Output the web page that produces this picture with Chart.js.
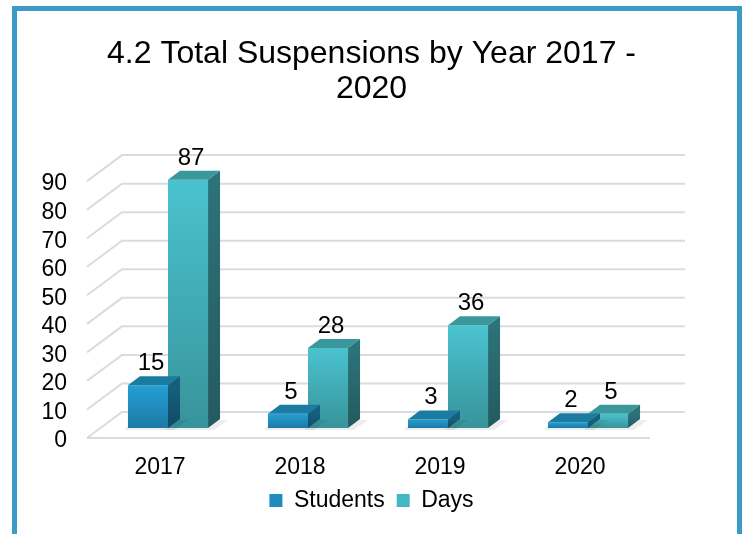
<!DOCTYPE html>
<html>
<head>
<meta charset="utf-8">
<script src="https://cdn.jsdelivr.net/npm/chart.js@4.4.1/dist/chart.umd.min.js"></script>
<style>
  html, body { margin: 0; padding: 0; background: #fff; }
  #wrap { position: relative; width: 743px; height: 534px; overflow: hidden; }
  #frame {
    position: absolute; left: 12px; top: 6px; width: 720px; height: 560px;
    border: 5px solid #3b9bc4; border-bottom: none; pointer-events: none;
  }
  canvas { position: absolute; left: 0; top: 0; }
</style>
</head>
<body>
<div id="wrap">
  <canvas id="suspensions-chart" width="743" height="534"></canvas>
  <div id="frame"></div>
</div>
<script>
// chart data
const years = ['2017', '2018', '2019', '2020'];
const students = [15, 5, 3, 2];
const days = [87, 28, 36, 5];
const yTicks = [0, 10, 20, 30, 40, 50, 60, 70, 80, 90];

const FONT = '"Liberation Sans", Arial, sans-serif';
const DEPTH_X = 12, DEPTH_Y = 9; // depth of the 3D bar faces

// colours per series: front top, front bottom, top face, side top, side bottom, legend
const palette = [
    { top: '#259fd4', bottom: '#1b7aa6', cap: '#1b7ca2', sideTop: '#16607e', sideBottom: '#114b63', key: '#1f8cc0' },
    { top: '#4ac3cf', bottom: '#38939a', cap: '#3a979c', sideTop: '#2d737a', sideBottom: '#235a5f', key: '#43b7c3' }
];

// vertical gradient for each bar, from its base up to its value
function frontGradient(idx) {
    return function (context) {
        const chart = context.chart;
        const y = chart.scales.y;
        if (!chart.chartArea || !y || context.raw === undefined) return palette[idx].top;
        const top = y.getPixelForValue(context.raw);
        const base = y.getPixelForValue(0);
        const g = chart.ctx.createLinearGradient(0, base, 0, Math.min(top, base - 1));
        g.addColorStop(0, palette[idx].bottom);
        g.addColorStop(1, palette[idx].top);
        return g;
    };
}

// perspective grid: back wall lines, left wall diagonals and front floor edge
const gridPlugin = {
    id: 'grid3d',
    beforeDatasetsDraw(chart) {
        const { ctx, chartArea, scales } = chart;
        const y = scales.y;
        ctx.save();
        ctx.strokeStyle = 'rgba(205, 205, 218, 0.75)';
        ctx.lineWidth = 2;
        yTicks.forEach(function (v) {
            const py = y.getPixelForValue(v);
            ctx.beginPath();
            ctx.moveTo(chartArea.left - 11, py + 10);
            ctx.lineTo(chartArea.left + 24, py - 16);
            ctx.lineTo(chartArea.right + 27, py - 16);
            ctx.stroke();
        });
        const p0 = y.getPixelForValue(0);
        ctx.beginPath();
        ctx.moveTo(chartArea.left - 11, p0 + 10);
        ctx.lineTo(chartArea.right - 8, p0 + 10);
        ctx.stroke();
        ctx.restore();
    }
};

// top and side faces for every bar, plus the value above it
const barPlugin = {
    id: 'bars3d',
    beforeDatasetDraw(chart, args) {
        // soft shadow on the floor
        const ctx = chart.ctx;
        const meta = args.meta;
        ctx.save();
        ctx.fillStyle = 'rgba(0, 0, 0, 0.07)';
        meta.data.forEach(function (bar) {
            const r = bar.x + bar.width / 2;
            const l = bar.x - bar.width / 2;
            ctx.beginPath();
            ctx.moveTo(l - 4, bar.base + 2);
            ctx.lineTo(r + 6, bar.base + 2);
            ctx.lineTo(r + DEPTH_X + 8, bar.base - DEPTH_Y + 1);
            ctx.lineTo(l + 6, bar.base - DEPTH_Y + 1);
            ctx.closePath();
            ctx.fill();
        });
        ctx.restore();
    },
    afterDatasetDraw(chart, args) {
        const ctx = chart.ctx;
        const meta = args.meta;
        const colors = palette[args.index];
        const values = chart.data.datasets[args.index].data;
        ctx.save();
        meta.data.forEach(function (bar, i) {
            const l = bar.x - bar.width / 2;
            const r = bar.x + bar.width / 2;
            const t = bar.y;
            const b = bar.base;
            // top face
            ctx.fillStyle = colors.cap;
            ctx.beginPath();
            ctx.moveTo(l, t);
            ctx.lineTo(l + DEPTH_X, t - DEPTH_Y);
            ctx.lineTo(r + DEPTH_X, t - DEPTH_Y);
            ctx.lineTo(r, t);
            ctx.closePath();
            ctx.fill();
            // right face
            const g = ctx.createLinearGradient(0, t, 0, b);
            g.addColorStop(0, colors.sideTop);
            g.addColorStop(1, colors.sideBottom);
            ctx.fillStyle = g;
            ctx.beginPath();
            ctx.moveTo(r, t);
            ctx.lineTo(r + DEPTH_X, t - DEPTH_Y);
            ctx.lineTo(r + DEPTH_X, b - DEPTH_Y);
            ctx.lineTo(r, b);
            ctx.closePath();
            ctx.fill();
            // value label
            ctx.fillStyle = '#000';
            ctx.font = '24px ' + FONT;
            ctx.textAlign = 'center';
            ctx.textBaseline = 'alphabetic';
            ctx.fillText(values[i], bar.x + 3, t - 15);
        });
        ctx.restore();
    }
};

const ctx1 = document.getElementById('suspensions-chart');

new Chart(ctx1, {
    type: 'bar',
    data: {
        labels: years,
        datasets: [
            {
                label: 'Students',
                data: students,
                backgroundColor: frontGradient(0),
                borderWidth: 0,
                categoryPercentage: 0.572,
                barPercentage: 1
            },
            {
                label: 'Days',
                data: days,
                backgroundColor: frontGradient(1),
                borderWidth: 0,
                categoryPercentage: 0.572,
                barPercentage: 1
            }
        ]
    },
    options: {
        responsive: false,
        animation: false,
        layout: {
            padding: { left: 0, right: 0, top: 0, bottom: 12 }
        },
        plugins: {
            title: {
                display: true,
                text: ['4.2 Total Suspensions by Year 2017 -', '2020'],
                color: '#000',
                font: { family: FONT, size: 32, weight: 'normal', lineHeight: 1.08 },
                padding: { top: 37, bottom: 65 }
            },
            legend: {
                position: 'bottom',
                labels: {
                    color: '#000',
                    font: { family: FONT, size: 23 },
                    boxWidth: 13,
                    boxHeight: 13,
                    padding: 12,
                    generateLabels(chart) {
                        const items = Chart.defaults.plugins.legend.labels.generateLabels(chart);
                        items.forEach(function (item, i) {
                            item.fillStyle = palette[i].key;
                            item.strokeStyle = palette[i].key;
                            item.lineWidth = 0;
                        });
                        return items;
                    }
                }
            },
            tooltip: { enabled: false }
        },
        scales: {
            x: {
                grid: { display: false, drawTicks: false },
                border: { display: false },
                ticks: {
                    color: '#000',
                    font: { family: FONT, size: 23, lineHeight: 1 },
                    padding: 28,
                    labelOffset: -8
                },
                afterFit(scale) { scale.height = 49; }
            },
            y: {
                min: 0,
                max: 90,
                grid: { display: false, drawTicks: false },
                border: { display: false },
                ticks: {
                    stepSize: 10,
                    autoSkip: false,
                    color: '#000',
                    font: { family: FONT, size: 23 },
                    padding: 31,
                    labelOffset: 13
                },
                afterFit(scale) { scale.width = 98; }
            },
            // empty axis on the right keeps the plot narrow while title and legend stay centred
            yRight: {
                position: 'right',
                grid: { display: false, drawTicks: false },
                border: { display: false },
                ticks: { display: false },
                afterFit(scale) { scale.width = 85; }
            }
        }
    },
    plugins: [gridPlugin, barPlugin]
});
</script>
</body>
</html>
